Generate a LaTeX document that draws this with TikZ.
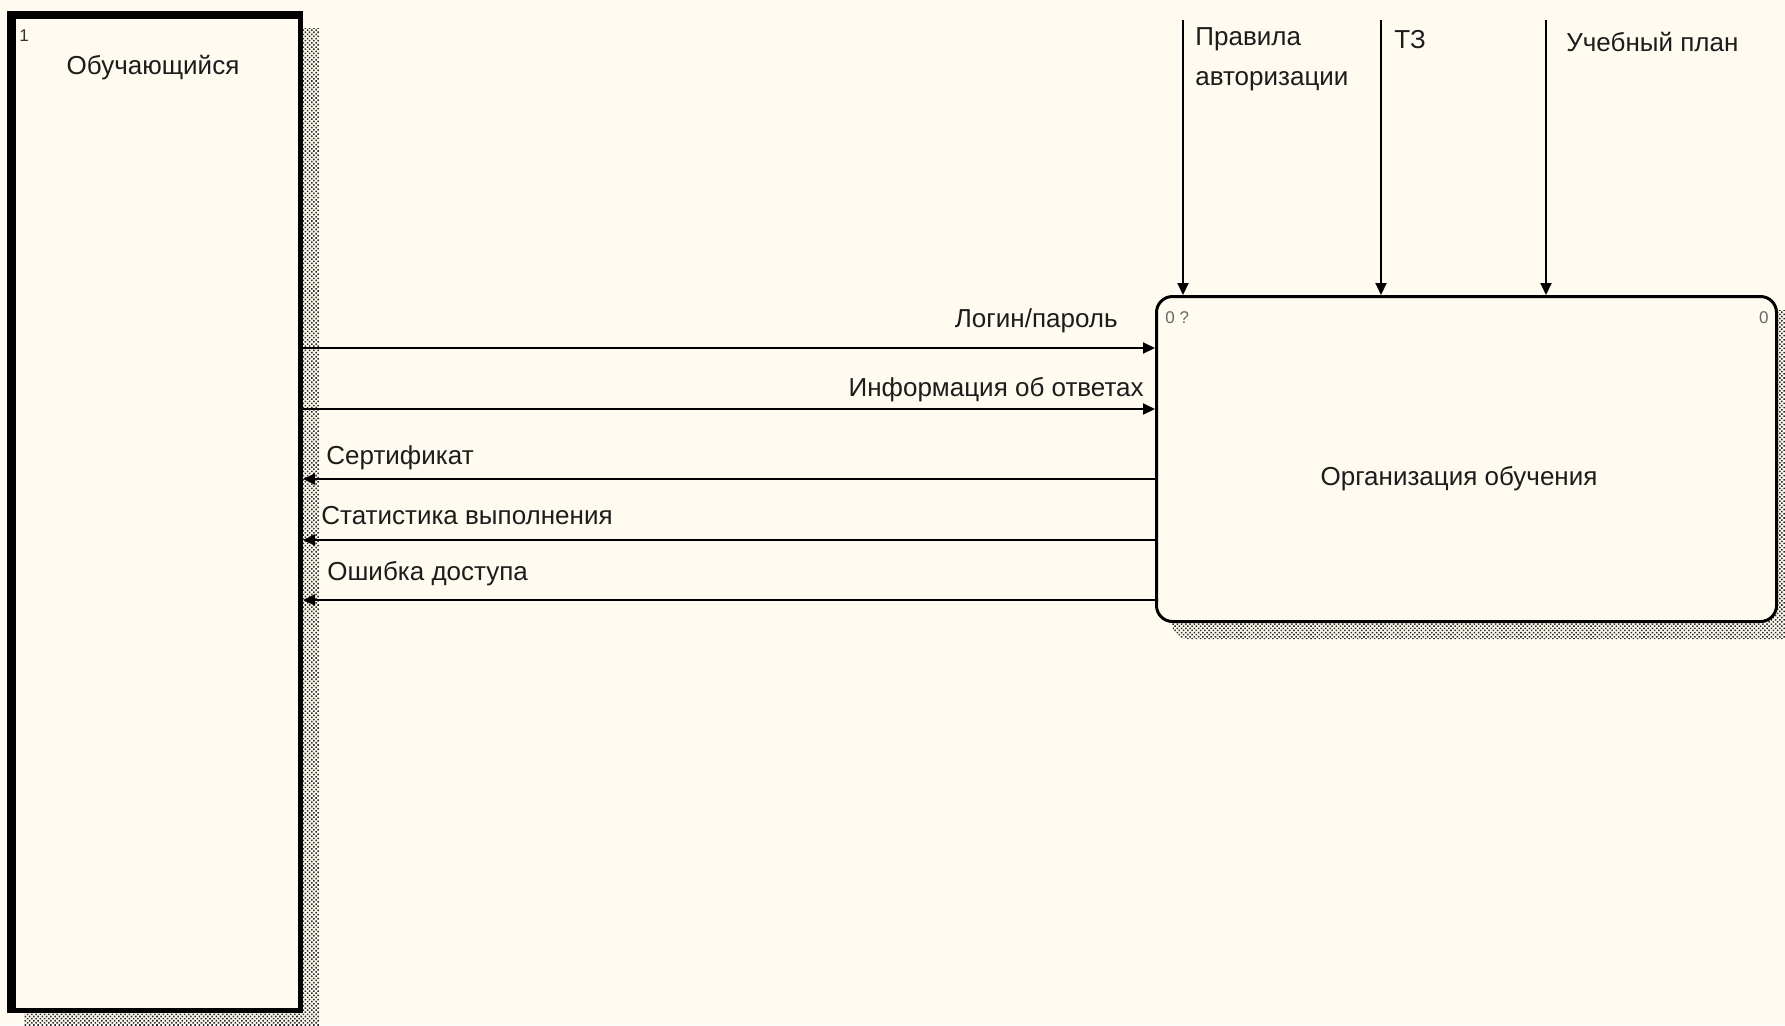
\documentclass[tikz,border=0pt]{standalone}
\usepackage{fontspec}
\setmainfont{Liberation Sans}
\usetikzlibrary{arrows.meta,patterns.meta,fit,calc}
\definecolor{bgc}{RGB}{255,251,240}
\definecolor{txt}{RGB}{28,28,28}
\begin{document}
\begin{tikzpicture}[x=0.5pt,y=-0.5pt,
  lab/.style={font=\fontsize{13}{20}\selectfont, text=txt, inner sep=0pt},
  small/.style={font=\fontsize{8.5}{10}\selectfont, text=black!60, inner sep=0pt},
  arr/.style={line width=1pt, -{Triangle[length=6pt,width=5.5pt]}},
  shade/.style={pattern={Dots[radius=0.55pt,distance=1.5pt,angle=45]}, pattern color=black!85},
  boxline/.style={draw=black, fill=bgc, inner sep=0pt}
]
\fill[bgc] (0,0) rectangle (1785,1025);
\useasboundingbox (0,0) rectangle (1785,1025);

% shadows
\fill[shade] (24,28) rectangle (319,1030);
\fill[shade, rounded corners=8pt] (1172,310) rectangle (1800,639);

% left entity box
\node[boxline, line width=2.5pt, fit={(9.5,13.5) (300.5,1010.5)}] (ent) {};
\fill[black] (ent.north west) rectangle ($(ent.south west)+(9,0)$);
\fill[black] (ent.north west) rectangle ($(ent.north east)+(0,8)$);
\node[lab] (entt) at (153,68) {Обучающийся};
\node[small, anchor=west, text=black!80] (n1) at (19,36) {1};

% activity box
\node[boxline, line width=1.5pt, rounded corners=8pt, fit={(1156.5,296.5) (1776.5,621.5)}] (org) {};
\node[lab] (orgt) at (1459,479) {Организация обучения};
\node[small, anchor=west] (n0q) at (1165,318) {0 ?};
\node[small, anchor=east] (n0) at (1769,318) {0};

% inputs
\draw[arr] (ent.east |- 0,348) -- (org.west |- 0,348);
\draw[arr] (ent.east |- 0,409) -- (org.west |- 0,409);
\node[lab, anchor=east] (l1) at (1118,321) {Логин/пароль};
\node[lab, anchor=east] (l2) at (1144,390) {Информация об ответах};

% outputs
\draw[arr] (org.west |- 0,479) -- (ent.east |- 0,479);
\draw[arr] (org.west |- 0,540) -- (ent.east |- 0,540);
\draw[arr] (org.west |- 0,600) -- (ent.east |- 0,600);
\node[lab, anchor=west] (l3) at (326,458) {Сертификат};
\node[lab, anchor=west] (l4) at (321,516) {Статистика выполнения};
\node[lab, anchor=west] (l5) at (327,574) {Ошибка доступа};

% controls
\coordinate (t1) at (1183,20);
\coordinate (t2) at (1381,20);
\coordinate (t3) at (1546,20);
\draw[arr] (t1) -- (t1 |- org.north);
\draw[arr] (t2) -- (t2 |- org.north);
\draw[arr] (t3) -- (t3 |- org.north);
\node[lab, anchor=west, align=left] (c1) at (1195,59) {Правила\\авторизации};
\node[lab, anchor=west] (c2) at (1394,40) {ТЗ};
\node[lab, anchor=west] (c3) at (1566,42) {Учебный план};
\end{tikzpicture}
\end{document}
